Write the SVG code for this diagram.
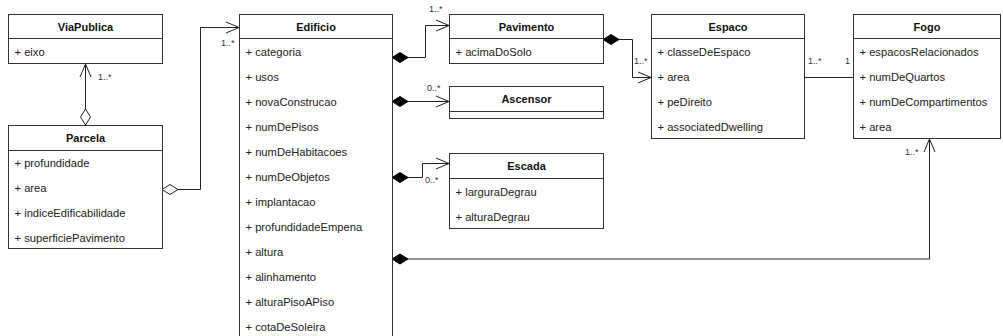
<svg xmlns="http://www.w3.org/2000/svg" width="1003" height="336" viewBox="0 0 1003 336">
<style>
.box{fill:#fff;stroke:#333;stroke-width:1}
.div{stroke:#333;stroke-width:1}
.t{font-family:"Liberation Sans",Arial,sans-serif;font-size:11px;font-weight:bold;fill:#111;text-anchor:middle;dominant-baseline:central}
.a{font-family:"Liberation Sans",Arial,sans-serif;font-size:11.2px;fill:#222;dominant-baseline:central}
.m{font-family:"Liberation Sans",Arial,sans-serif;font-size:9px;fill:#333;dominant-baseline:central}
.c{fill:none;stroke:#222;stroke-width:1}
.g{fill:none;stroke:#939393;stroke-width:2}
</style>
<defs>
<marker id="open" markerUnits="userSpaceOnUse" markerWidth="20" markerHeight="20" refX="0" refY="0" orient="auto" overflow="visible">
<path d="M-13,-5.5 L0,0 L-13,5.5" fill="none" stroke="#222" stroke-width="1"/>
</marker>
<marker id="hd" markerUnits="userSpaceOnUse" markerWidth="20" markerHeight="20" refX="0" refY="0" orient="auto" overflow="visible">
<path d="M0,0 L8,-5 L16,0 L8,5 Z" fill="#fff" stroke="#222" stroke-width="1"/>
</marker>
<marker id="fd" markerUnits="userSpaceOnUse" markerWidth="20" markerHeight="20" refX="0" refY="0" orient="auto" overflow="visible">
<path d="M0,0 L8,-5 L16,0 L8,5 Z" fill="#000" stroke="#000" stroke-width="1"/>
</marker>
</defs>
<rect width="1003" height="336" fill="#fff"/>

<g id="connectors">
<path class="c" d="M85.5,125 L85.5,64" marker-start="url(#hd)" marker-end="url(#open)"/>
<text class="m" x="98" y="77">1..*</text>
<path class="c" d="M162,189.5 L200.5,189.5 L200.5,27.5 L239,27.5" marker-start="url(#hd)" marker-end="url(#open)"/>
<text class="m" x="221" y="43">1..*</text>
<path class="c" d="M392,57.5 L425.5,57.5 L425.5,25.5 L449,25.5" marker-start="url(#fd)" marker-end="url(#open)"/>
<text class="m" x="429" y="9">1..*</text>
<path class="c" d="M392,101.5 L449,101.5" marker-start="url(#fd)" marker-end="url(#open)"/>
<text class="m" x="427" y="88">0..*</text>
<path class="c" d="M392,177.5 L422.5,177.5 L422.5,163.5 L449,163.5" marker-start="url(#fd)" marker-end="url(#open)"/>
<text class="m" x="425" y="180">0..*</text>
<path class="g" d="M392,259 L929.5,259" marker-start="url(#fd)"/>
<path class="c" d="M929.5,259 L929.5,139" marker-end="url(#open)"/>
<text class="m" x="905" y="152">1..*</text>
<path class="c" d="M603,39.5 L632.5,39.5 L632.5,77.5 L651,77.5" marker-start="url(#fd)" marker-end="url(#open)"/>
<text class="m" x="634" y="61">1..*</text>
<path class="c" d="M804,77.5 L853,77.5"/>
<text class="m" x="808" y="61">1..*</text>
<text class="m" x="845" y="61">1</text>
</g>

<g id="ViaPublica">
<rect class="box" x="8.5" y="14.5" width="154" height="49"/>
<line class="div" x1="8.5" y1="38.5" x2="162.5" y2="38.5"/>
<text class="t" x="85.5" y="27">ViaPublica</text>
<text class="a" x="14.5" y="52">+ eixo</text>
</g>

<g id="Parcela">
<rect class="box" x="8.5" y="125.5" width="154" height="123"/>
<line class="div" x1="8.5" y1="150.5" x2="162.5" y2="150.5"/>
<text class="t" x="85.5" y="138">Parcela</text>
<text class="a" x="14.5" y="163">+ profundidade</text>
<text class="a" x="14.5" y="188">+ area</text>
<text class="a" x="14.5" y="213">+ indiceEdificabilidade</text>
<text class="a" x="14.5" y="238">+ superficiePavimento</text>
</g>

<g id="Edificio">
<rect class="box" x="239.5" y="14.5" width="153" height="340"/>
<line class="div" x1="239.5" y1="38.5" x2="392.5" y2="38.5"/>
<text class="t" x="316" y="27">Edificio</text>
<text class="a" x="245.5" y="52">+ categoria</text>
<text class="a" x="245.5" y="77">+ usos</text>
<text class="a" x="245.5" y="102">+ novaConstrucao</text>
<text class="a" x="245.5" y="127">+ numDePisos</text>
<text class="a" x="245.5" y="152">+ numDeHabitacoes</text>
<text class="a" x="245.5" y="177">+ numDeObjetos</text>
<text class="a" x="245.5" y="202">+ implantacao</text>
<text class="a" x="245.5" y="227">+ profundidadeEmpena</text>
<text class="a" x="245.5" y="252">+ altura</text>
<text class="a" x="245.5" y="277">+ alinhamento</text>
<text class="a" x="245.5" y="302">+ alturaPisoAPiso</text>
<text class="a" x="245.5" y="327">+ cotaDeSoleira</text>
</g>

<g id="Pavimento">
<rect class="box" x="449.5" y="14.5" width="154" height="49"/>
<line class="div" x1="449.5" y1="38.5" x2="603.5" y2="38.5"/>
<text class="t" x="526.5" y="27">Pavimento</text>
<text class="a" x="455.5" y="52">+ acimaDoSolo</text>
</g>

<g id="Ascensor">
<rect class="box" x="449.5" y="86.5" width="154" height="32"/>
<line class="div" x1="449.5" y1="111.5" x2="603.5" y2="111.5"/>
<text class="t" x="526.5" y="99">Ascensor</text>
</g>

<g id="Escada">
<rect class="box" x="449.5" y="153.5" width="154" height="75"/>
<line class="div" x1="449.5" y1="178.5" x2="603.5" y2="178.5"/>
<text class="t" x="526.5" y="166">Escada</text>
<text class="a" x="455.5" y="192">+ larguraDegrau</text>
<text class="a" x="455.5" y="217">+ alturaDegrau</text>
</g>

<g id="Espaco">
<rect class="box" x="651.5" y="14.5" width="153" height="124"/>
<line class="div" x1="651.5" y1="38.5" x2="804.5" y2="38.5"/>
<text class="t" x="728" y="27">Espaco</text>
<text class="a" x="657.5" y="52">+ classeDeEspaco</text>
<text class="a" x="657.5" y="77">+ area</text>
<text class="a" x="657.5" y="102">+ peDireito</text>
<text class="a" x="657.5" y="127">+ associatedDwelling</text>
</g>

<g id="Fogo">
<rect class="box" x="853.5" y="14.5" width="147" height="124"/>
<line class="div" x1="853.5" y1="38.5" x2="1000.5" y2="38.5"/>
<text class="t" x="927" y="27">Fogo</text>
<text class="a" x="859.5" y="52">+ espacosRelacionados</text>
<text class="a" x="859.5" y="77">+ numDeQuartos</text>
<text class="a" x="859.5" y="102">+ numDeCompartimentos</text>
<text class="a" x="859.5" y="127">+ area</text>
</g>
</svg>
